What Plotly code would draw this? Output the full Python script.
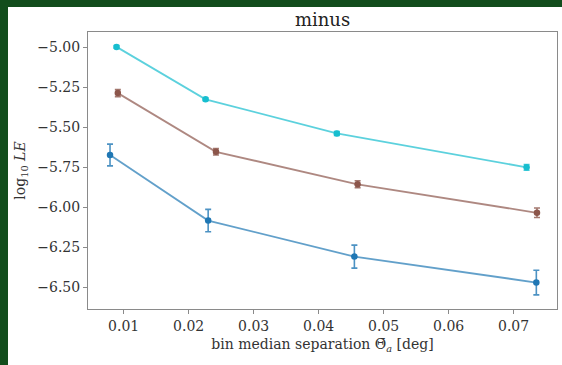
import plotly.graph_objects as go

# data
x_blue = [0.0079, 0.0230, 0.0455, 0.0735]
y_blue = [-5.675, -6.085, -6.310, -6.472]
e_blue = [0.068, 0.070, 0.072, 0.077]

x_brown = [0.0091, 0.0242, 0.0460, 0.0736]
y_brown = [-5.288, -5.655, -5.858, -6.036]
e_brown = [0.022, 0.020, 0.022, 0.030]

x_cyan = [0.0089, 0.0226, 0.0428, 0.0720]
y_cyan = [-4.999, -5.327, -5.540, -5.752]
e_cyan = [0.008, 0.008, 0.012, 0.018]

x_ticks = [0.01, 0.02, 0.03, 0.04, 0.05, 0.06, 0.07]
y_ticks = [-5.00, -5.25, -5.50, -5.75, -6.00, -6.25, -6.50]

W, H = 562, 365
L, R, T, B = 88, 5, 32, 56
pw, ph = W - L - R, H - T - B

series = [
    (x_blue, y_blue, e_blue, "31,119,180"),
    (x_brown, y_brown, e_brown, "140,86,75"),
    (x_cyan, y_cyan, e_cyan, "23,190,207"),
]

fig = go.Figure()
for xs, ys, es, rgb in series:
    fig.add_trace(go.Scatter(
        x=xs, y=ys, mode="lines+markers",
        line=dict(color=f"rgba({rgb},0.7)", width=1.8),
        marker=dict(color=f"rgb({rgb})", size=6.5),
        error_y=dict(type="data", array=es, visible=True,
                     color=f"rgba({rgb},0.8)", thickness=1.6, width=3),
        showlegend=False,
    ))

serif = "DejaVu Serif"
axis_common = dict(
    showline=True, mirror=True, linecolor="#8a8a8a", linewidth=1,
    ticks="outside", ticklen=4, tickcolor="#8a8a8a", tickwidth=1,
    showgrid=False, zeroline=False,
    tickfont=dict(family=serif, size=14, color="#333333"),
)

fig.update_layout(
    width=W, height=H, autosize=False,
    margin=dict(l=L, r=R, t=T, b=B),
    paper_bgcolor="#124d1c", plot_bgcolor="white",
    title=dict(text="minus", x=0.5, xref="paper", xanchor="center",
               y=1 - 20 / H, yref="container", yanchor="middle",
               font=dict(family=serif, size=18, color="#222222")),
    xaxis=dict(axis_common, range=[0.00451, 0.07668], tickvals=x_ticks,
               ticktext=[f"{v:.2f}" for v in x_ticks],
               title=dict(text="bin median separation Θ̄<sub><i>a</i></sub> [deg]",
                          font=dict(family=serif, size=14, color="#333333"),
                          standoff=6)),
    yaxis=dict(axis_common, range=[-6.6375, -4.906], tickvals=y_ticks,
               ticktext=[f"−{abs(v):.2f}" for v in y_ticks],
               title=dict(text="log<sub>10</sub> <i>LE</i>",
                          font=dict(family=serif, size=14, color="#333333"),
                          standoff=8)),
    shapes=[dict(type="rect", xref="paper", yref="paper", layer="below",
                 x0=(8 - L) / pw, x1=(W - L) / pw + 0.01,
                 y0=-(B + 2) / ph, y1=1 + (T - 7) / ph,
                 fillcolor="white", line=dict(width=0))],
)

fig.write_html("out.html", config={"displayModeBar": False},
               post_script="document.body.style.margin='0';document.body.style.background='#124d1c';")
